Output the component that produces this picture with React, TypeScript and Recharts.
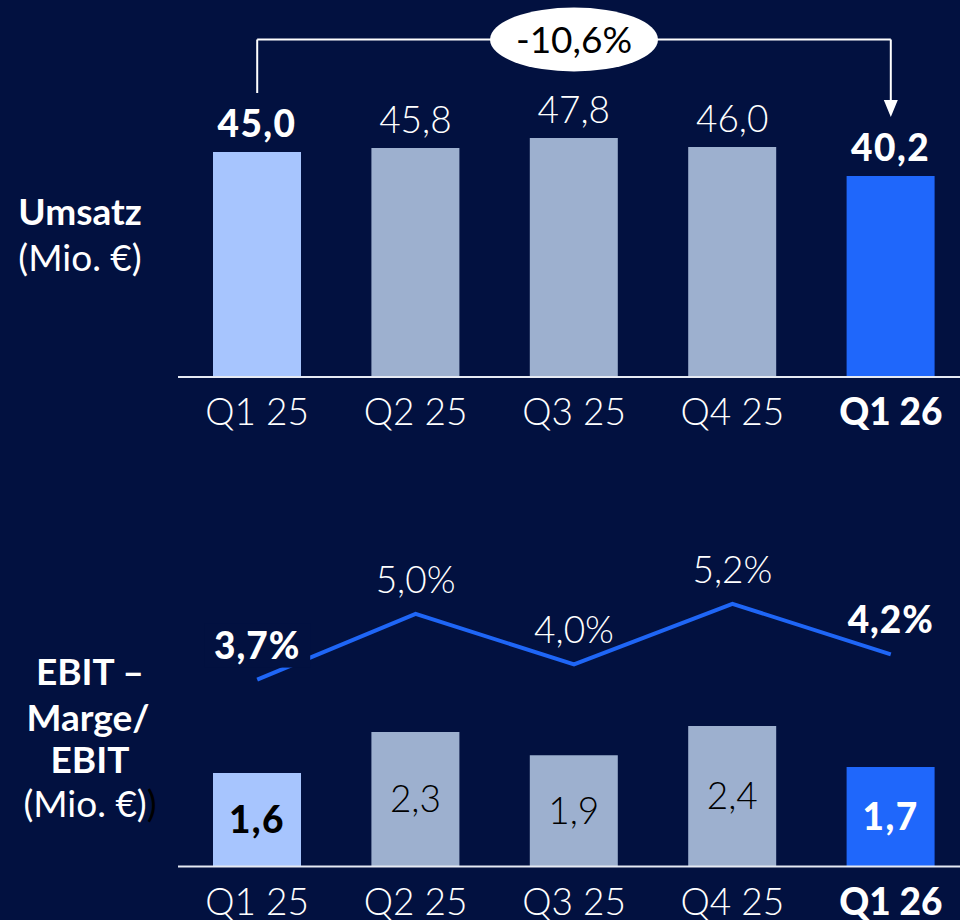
import React from "react"
import {
  BarChart,
  ComposedChart,
  Bar,
  Line,
  Cell,
  XAxis,
  YAxis,
  LabelList,
  ReferenceLine,
  ReferenceDot,
} from "recharts"

// quarterly figures
const quarters = ["Q1 25", "Q2 25", "Q3 25", "Q4 25", "Q1 26"]
const umsatz = [45.0, 45.8, 47.8, 46.0, 40.2]
const ebit = [1.6, 2.3, 1.9, 2.4, 1.7]
const ebitMarge = [3.7, 5.0, 4.0, 5.2, 4.2]
const highlight = [true, false, false, false, true]
const changeLabel = "-10,6%"

const BG = "#021140"
const FONT = "Lato, 'Noto Sans', sans-serif"
const barColors = ["#a7c5fe", "#9db0cf", "#9db0cf", "#9db0cf", "#1f67fb"]
const LINE_COLOR = "#1f66f6"

const topData = quarters.map((q, i) => ({ q, umsatz: umsatz[i] }))
const bottomData = quarters.map((q, i) => ({ q, ebit: ebit[i], marge: ebitMarge[i] }))

const fmt = (v: number) => v.toFixed(1).replace(".", ",")

// bracket levels (in Umsatz units)
const BRACKET_Y = 67.5
const BRACKET_START = 56.8
const ARROW_BASE = 55.4
const ARROW_TIP = 52

const Tick = (props: any) => {
  const { x, y, payload } = props
  const bold = payload.value === "Q1 26"
  return (
    <text
      x={x}
      y={y + 48}
      textAnchor="middle"
      fill="#fff"
      fontFamily={FONT}
      fontSize={37}
      fontWeight={bold ? 900 : 300}
    >
      {payload.value}
    </text>
  )
}

const TopLabel = (props: any) => {
  const { x, y, width, value, index } = props
  const bold = highlight[index]
  return (
    <text
      x={x + width / 2}
      y={y - 15}
      textAnchor="middle"
      fill="#fff"
      fontFamily={FONT}
      fontSize={37}
      fontWeight={bold ? 900 : 300}
      letterSpacing={bold ? 1.5 : 0}
    >
      {fmt(value)}
    </text>
  )
}

const EbitLabel = (props: any) => {
  const { x, y, width, height, value, index } = props
  const bold = highlight[index]
  return (
    <text
      x={x + width / 2}
      y={y + height / 2 + 13}
      textAnchor="middle"
      fill={index === 4 ? "#fff" : "#000"}
      fontFamily={FONT}
      fontSize={37}
      fontWeight={bold ? 900 : 300}
      letterSpacing={bold ? 1.5 : 0}
    >
      {fmt(value)}
    </text>
  )
}

const MargeLabel = (props: any) => {
  const { x, y, value, index } = props
  const bold = highlight[index]
  const by = y - 21
  return (
    <g>
      {index === 0 && <rect x={x - 53} y={by - 35} width={106} height={44} fill={BG} />}
      <text
        x={x}
        y={by}
        textAnchor="middle"
        fill="#fff"
        fontFamily={FONT}
        fontSize={37}
        fontWeight={bold ? 900 : 300}
        letterSpacing={bold ? 1 : 0}
      >
        {fmt(value) + "%"}
      </text>
    </g>
  )
}

const ChangeBubble = (props: any) => {
  const { cx, cy } = props
  return (
    <g>
      <ellipse cx={cx} cy={cy} rx={84} ry={32} fill="#fff" />
      <text
        x={cx}
        y={cy + 13}
        textAnchor="middle"
        fill="#000"
        fontFamily={FONT}
        fontSize={37}
        fontWeight={400}
      >
        {changeLabel}
      </text>
    </g>
  )
}

const ArrowHead = (props: any) => {
  const { cx, cy } = props
  return <polygon points={`${cx - 7},${cy - 17} ${cx + 7},${cy - 17} ${cx},${cy}`} fill="#fff" />
}

export default function App() {
  return (
    <div
      style={{
        position: "fixed",
        left: 0,
        top: 0,
        width: 960,
        height: 920,
        overflow: "hidden",
        background: BG,
      }}
    >
      <div style={{ position: "absolute", left: 0, top: 0 }}>
        <BarChart
          width={970}
          height={440}
          data={topData}
          margin={{ top: 2, right: 0, left: 178, bottom: 0 }}
        >
          <XAxis
            dataKey="q"
            height={63}
            tickLine={false}
            tickSize={0}
            tickMargin={0}
            axisLine={{ stroke: "#e6eaf3", strokeWidth: 2 }}
            tick={<Tick />}
            interval={0}
          />
          <YAxis hide domain={[0, 75]} />
          <Bar dataKey="umsatz" barSize={88} isAnimationActive={false}>
            {topData.map((d, i) => (
              <Cell key={d.q} fill={barColors[i]} />
            ))}
            <LabelList dataKey="umsatz" content={<TopLabel />} />
          </Bar>
          <ReferenceLine
            segment={[
              { x: quarters[0], y: BRACKET_START },
              { x: quarters[0], y: BRACKET_Y },
            ]}
            stroke="#fff"
            strokeWidth={2}
          />
          <ReferenceLine
            segment={[
              { x: quarters[0], y: BRACKET_Y },
              { x: quarters[4], y: BRACKET_Y },
            ]}
            stroke="#fff"
            strokeWidth={2}
          />
          <ReferenceLine
            segment={[
              { x: quarters[4], y: BRACKET_Y },
              { x: quarters[4], y: ARROW_BASE },
            ]}
            stroke="#fff"
            strokeWidth={2}
          />
          <ReferenceDot x={quarters[4]} y={ARROW_TIP} r={0} shape={<ArrowHead />} />
          <ReferenceDot x={quarters[2]} y={BRACKET_Y} r={0} shape={<ChangeBubble />} />
        </BarChart>
      </div>

      <div style={{ position: "absolute", left: 0, top: 460 }}>
        <ComposedChart
          width={970}
          height={460}
          data={bottomData}
          margin={{ top: 114, right: 0, left: 178, bottom: 0 }}
        >
          <XAxis
            dataKey="q"
            height={53.5}
            tickLine={false}
            tickSize={0}
            tickMargin={0}
            axisLine={{ stroke: "#e6eaf3", strokeWidth: 2 }}
            tick={<Tick />}
            interval={0}
          />
          <YAxis yAxisId="bar" hide domain={[0, 5]} />
          <YAxis yAxisId="line" hide domain={[0, 5.79]} />
          <Bar yAxisId="bar" dataKey="ebit" barSize={88} isAnimationActive={false}>
            {bottomData.map((d, i) => (
              <Cell key={d.q} fill={barColors[i]} />
            ))}
            <LabelList dataKey="ebit" content={<EbitLabel />} />
          </Bar>
          <Line
            yAxisId="line"
            type="linear"
            dataKey="marge"
            stroke={LINE_COLOR}
            strokeWidth={4}
            dot={false}
            activeDot={false}
            isAnimationActive={false}
          >
            <LabelList dataKey="marge" content={<MargeLabel />} />
          </Line>
        </ComposedChart>
      </div>

      <svg
        width={178}
        height={920}
        style={{ position: "absolute", left: 0, top: 0 }}
        fontFamily={FONT}
        fontSize={37}
        fill="#fff"
        textAnchor="middle"
      >
        <text x={80} y={225} fontWeight={700}>Umsatz</text>
        <text x={80} y={271} fontWeight={400}>(Mio. €)</text>
        <text x={90} y={685} fontWeight={700}>EBIT –</text>
        <text x={88} y={731} fontWeight={700}>Marge/</text>
        <text x={90} y={773} fontWeight={700}>EBIT</text>
        <text x={90} y={817} fontWeight={400}>
          (Mio. €)<tspan fill="#000">)</tspan>
        </text>
      </svg>
    </div>
  )
}
